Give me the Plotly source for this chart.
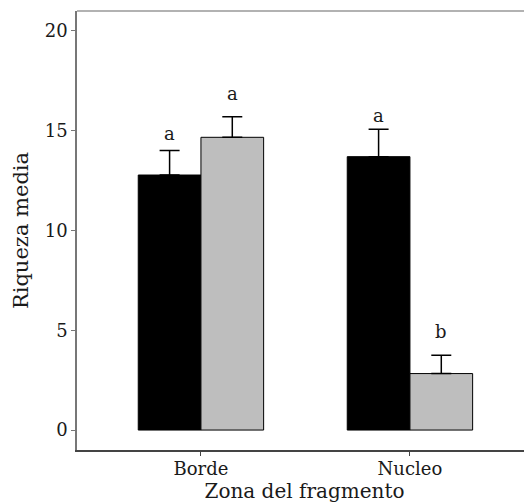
import plotly.graph_objects as go

categories = ["Borde", "Nucleo"]
serie_negra = [12.78, 13.70]
serie_gris = [14.67, 2.83]
se_negra = [1.23, 1.38]
se_gris = [1.03, 0.92]
letras_negra = ["a", "a"]
letras_gris = ["a", "b"]
letras_y_negra = [14.5, 15.4]
letras_y_gris = [16.47, 4.58]
y_ticks = [0, 5, 10, 15, 20]

FONT = "DejaVu Serif"

fig = go.Figure()
fig.add_trace(go.Bar(
    x=categories, y=serie_negra, name="negra",
    marker=dict(color="black", line=dict(color="black", width=1)),
    error_y=dict(type="data", symmetric=False, array=se_negra, arrayminus=[0, 0],
                 color="black", thickness=1.5, width=10),
))
fig.add_trace(go.Bar(
    x=categories, y=serie_gris, name="gris",
    marker=dict(color="#BEBEBE", line=dict(color="black", width=1)),
    error_y=dict(type="data", symmetric=False, array=se_gris, arrayminus=[0, 0],
                 color="black", thickness=1.5, width=10),
))

off = 0.15
for i, c in enumerate(categories):
    for dx, txt, yy in ((-off, letras_negra[i], letras_y_negra[i]), (off, letras_gris[i], letras_y_gris[i])):
        fig.add_annotation(x=i + dx, y=yy, text=txt, showarrow=False,
                           xref="x", yref="y", yanchor="bottom", yshift=-5,
                           font=dict(family=FONT, size=18, color="#1a1a1a"))

# top border line
fig.add_shape(type="line", xref="paper", yref="paper", x0=0, x1=1, y0=1, y1=1,
              line=dict(color="#999999", width=1.5))

fig.update_layout(
    width=524, height=495,
    margin=dict(l=69, r=0, t=3, b=53, autoexpand=False),
    paper_bgcolor="white", plot_bgcolor="white",
    barmode="group", bargap=0.4, bargroupgap=0,
    showlegend=False,
    font=dict(family=FONT, color="#1a1a1a"),
    xaxis=dict(
        range=[-0.593, 1.584], showgrid=False, zeroline=False, automargin=False,
        showline=True, linecolor="#444444", linewidth=1.5,
        ticks="outside", ticklen=4, tickcolor="#444444", ticklabelstandoff=-2,
        tickfont=dict(family=FONT, size=18, color="#1a1a1a"),
        title=dict(text="Zona del fragmento", font=dict(family=FONT, size=20, color="#1a1a1a"), standoff=0),
    ),
    yaxis=dict(
        range=[-1, 21], showgrid=False, zeroline=False, automargin=False,
        showline=True, linecolor="#777777", linewidth=1.5,
        tickvals=y_ticks, ticks="outside", ticklen=4, tickcolor="#777777",
        tickfont=dict(family=FONT, size=18, color="#1a1a1a"),
        title=dict(text="Riqueza media", font=dict(family=FONT, size=21, color="#1a1a1a"), standoff=10),
    ),
)

fig.write_html("out.html")
